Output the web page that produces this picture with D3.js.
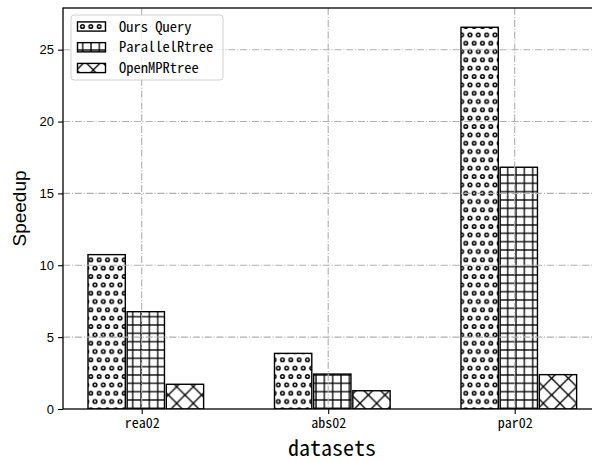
<!DOCTYPE html>
<html>
<head>
<meta charset="utf-8">
<script src="https://cdn.jsdelivr.net/npm/d3@7"></script>
<style>
  html, body { margin: 0; padding: 0; background: #fff; }
  svg { display: block; }
</style>
</head>
<body>
<script>
// ---- data ----
const categories = ["rea02", "abs02", "par02"];
const seriesNames = ["Ours Query", "ParallelRtree", "OpenMPRtree"];
const oursQuery = [10.74, 3.87, 26.56];
const parallelRtree = [6.77, 2.43, 16.82];
const openMPRtree = [1.72, 1.27, 2.39];
const yTicks = [0, 5, 10, 15, 20, 25];
const xLabel = "datasets";
const yLabel = "Speedup";

const seriesValues = [oursQuery, parallelRtree, openMPRtree];
const hatchIds = ["hatch-o", "hatch-plus", "hatch-x"];

// ---- layout ----
const W = 592, H = 461;
const plotLeft = 63, plotTop = 8, plotBottom = 409;
const monoFont = "'Noto Sans Mono CJK SC', 'Noto Sans Mono CJK JP', 'DejaVu Sans Mono', monospace";
const sansFont = "'Liberation Sans', Arial, sans-serif";

const svg = d3.select("body").append("svg").attr("width", W).attr("height", H);
const defs = svg.append("defs");

// hatch patterns anchored to page space
const u = 8.333;
const pO = defs.append("pattern").attr("id", "hatch-o").attr("patternUnits", "userSpaceOnUse")
  .attr("width", u).attr("height", 2 * u).attr("patternTransform", "translate(3.33,1.5)");
pO.append("rect").attr("width", u).attr("height", 2 * u).attr("fill", "#fff");
[[0, 0], [u, 0], [u / 2, u], [0, 2 * u], [u, 2 * u]].forEach(([cx, cy]) =>
  pO.append("circle").attr("cx", cx).attr("cy", cy).attr("r", 1.8)
    .attr("fill", "none").attr("stroke", "#000").attr("stroke-width", 1.5));

const pP = defs.append("pattern").attr("id", "hatch-plus").attr("patternUnits", "userSpaceOnUse")
  .attr("width", u).attr("height", u).attr("patternTransform", "translate(7.7,0)");
pP.append("rect").attr("width", u).attr("height", u).attr("fill", "#fff");
pP.append("line").attr("x1", 0).attr("x2", 0).attr("y1", -1).attr("y2", u + 1).attr("stroke", "#000").attr("stroke-width", 1.3);
pP.append("line").attr("x1", u).attr("x2", u).attr("y1", -1).attr("y2", u + 1).attr("stroke", "#000").attr("stroke-width", 1.3);
pP.append("line").attr("y1", 0).attr("y2", 0).attr("x1", -1).attr("x2", u + 1).attr("stroke", "#000").attr("stroke-width", 1.3);
pP.append("line").attr("y1", u).attr("y2", u).attr("x1", -1).attr("x2", u + 1).attr("stroke", "#000").attr("stroke-width", 1.3);

const d = 2 * u;
const pX = defs.append("pattern").attr("id", "hatch-x").attr("patternUnits", "userSpaceOnUse")
  .attr("width", d).attr("height", d).attr("patternTransform", "translate(-6.67,3.33)");
pX.append("rect").attr("width", d).attr("height", d).attr("fill", "#fff");
[[-1, -1, d + 1, d + 1], [-1, d + 1, d + 1, -1]].forEach(([x1, y1, x2, y2]) =>
  pX.append("line").attr("x1", x1).attr("y1", y1).attr("x2", x2).attr("y2", y2)
    .attr("stroke", "#000").attr("stroke-width", 1.3));

// ---- scales ----
const xIndex = categories.map((c, i) => i);
const x = d3.scaleLinear().domain([-0.422, 2.463]).range([plotLeft, plotLeft + 2.885 * 186.5]);
const plotRight = x.range()[1];
const y = d3.scaleLinear().domain([0, 27.9]).range([plotBottom, plotTop]);
const barW = 0.2;
const barOffsets = [-0.188, 0.022, 0.232];

// clip for plot area
defs.append("clipPath").attr("id", "plotclip").append("rect")
  .attr("x", plotLeft).attr("y", plotTop).attr("width", plotRight - plotLeft).attr("height", plotBottom - plotTop);

// ---- bars ----
const barsG = svg.append("g").attr("clip-path", "url(#plotclip)");
seriesValues.forEach((vals, s) => {
  barsG.selectAll(null).data(vals).enter().append("rect")
    .attr("x", (v, i) => x(xIndex[i] + barOffsets[s] - barW / 2))
    .attr("width", x(barW) - x(0))
    .attr("y", v => y(v))
    .attr("height", v => y(0) - y(v))
    .attr("fill", `url(#${hatchIds[s]})`)
    .attr("stroke", "#000").attr("stroke-width", 1.4);
});

// ---- grid (drawn over bars, like the reference) ----
const gridG = svg.append("g").attr("clip-path", "url(#plotclip)");
const dash = "7.1 1.8 1.1 1.8";
gridG.selectAll(null).data(yTicks.filter(t => t > 0)).enter().append("line")
  .attr("x1", plotLeft).attr("x2", plotRight)
  .attr("y1", t => y(t)).attr("y2", t => y(t))
  .attr("stroke", "#b0b0b0").attr("stroke-width", 1.1).attr("stroke-dasharray", dash);
gridG.selectAll(null).data(xIndex).enter().append("line")
  .attr("y1", plotTop).attr("y2", plotBottom)
  .attr("x1", i => x(i)).attr("x2", i => x(i))
  .attr("stroke", "#b0b0b0").attr("stroke-width", 1.1).attr("stroke-dasharray", dash);

// ---- axes ----
const yAxis = d3.axisLeft(y).tickValues(yTicks).tickSize(5).tickPadding(4).tickFormat(d3.format("d"));
const yG = svg.append("g").attr("transform", `translate(${plotLeft},0)`).call(yAxis);
yG.select(".domain").remove();
yG.selectAll("text").attr("font-family", sansFont).attr("font-size", 13).attr("fill", "#000");
yG.selectAll("line").attr("stroke", "#000").attr("stroke-width", 1.1);

const xAxis = d3.axisBottom(x).tickValues(xIndex).tickSize(5).tickPadding(4).tickFormat(i => categories[i]);
const xG = svg.append("g").attr("transform", `translate(0,${plotBottom})`).call(xAxis);
xG.select(".domain").remove();
xG.selectAll("text").attr("font-family", monoFont).attr("font-size", 14).attr("fill", "#000");
xG.selectAll("line").attr("stroke", "#000").attr("stroke-width", 1.1);

// spines
svg.append("rect").attr("x", plotLeft).attr("y", plotTop)
  .attr("width", plotRight - plotLeft).attr("height", plotBottom - plotTop)
  .attr("fill", "none").attr("stroke", "#000").attr("stroke-width", 1.3);

// axis labels
svg.append("text").attr("x", (plotLeft + plotRight) / 2).attr("y", 456)
  .attr("text-anchor", "middle").attr("font-family", monoFont).attr("font-size", 22)
  .attr("fill", "#000").text(xLabel);
svg.append("text").attr("transform", `translate(26,${(plotTop + plotBottom) / 2}) rotate(-90)`)
  .attr("text-anchor", "middle").attr("font-family", sansFont).attr("font-size", 19)
  .attr("fill", "#000").text(yLabel);

// ---- legend ----
const lg = svg.append("g");
lg.append("rect").attr("x", 71).attr("y", 15).attr("width", 152).attr("height", 65)
  .attr("rx", 3).attr("fill", "#fff").attr("fill-opacity", 0.8)
  .attr("stroke", "#d0d0d0").attr("stroke-width", 1);
const legendY = d3.scaleLinear().domain([0, 2]).range([26.5, 68]);
seriesNames.forEach((name, s) => {
  const cy = legendY(s);
  lg.append("rect").attr("x", 77.5).attr("y", cy - 4.6).attr("width", 28).attr("height", 9.2)
    .attr("fill", `url(#${hatchIds[s]})`).attr("stroke", "#000").attr("stroke-width", 1.4);
  lg.append("text").attr("x", 119).attr("y", cy).attr("dy", "0.35em")
    .attr("font-family", monoFont).attr("font-size", 14.5).attr("fill", "#000").text(name);
});
</script>
</body>
</html>
